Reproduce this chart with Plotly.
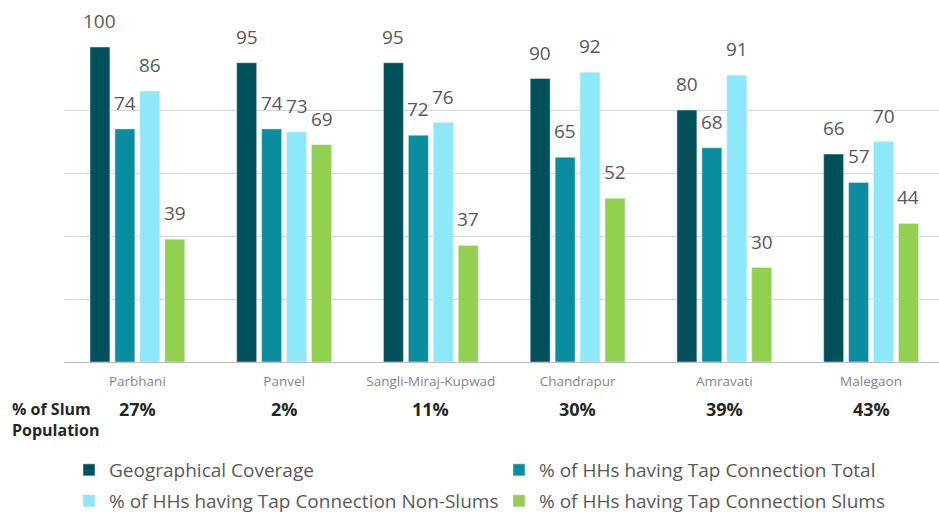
import plotly.graph_objects as go

cities = ["Parbhani", "Panvel", "Sangli-Miraj-Kupwad", "Chandrapur", "Amravati", "Malegaon"]
slum_pop = ["27%", "2%", "11%", "30%", "39%", "43%"]
geo_coverage = [100, 95, 95, 90, 80, 66]
tap_total = [74, 74, 72, 65, 68, 57]
tap_nonslum = [86, 73, 76, 92, 91, 70]
tap_slum = [39, 69, 37, 52, 30, 44]

series_names = [
    "Geographical Coverage",
    "% of HHs having Tap Connection Total",
    "% of HHs having Tap Connection Non-Slums",
    "% of HHs having Tap Connection Slums",
]
series_values = [geo_coverage, tap_total, tap_nonslum, tap_slum]
series_colors = ["#02505a", "#0a8d9e", "#8de8f9", "#92d050"]
legend_ids = ["legend", "legend2", "legend3", "legend4"]
# legend placement (pixels: left x, row center y)
legend_pos = [(69, 470), (499, 470), (69, 501), (499, 501)]

FONT = "Open Sans, Noto Sans, sans-serif"
W, H = 939, 515
ML, MR, MT, MB = 64, 0, 47, 153
BARGAP, BARGROUPGAP = 0.32, 0.2
XRANGE = [-0.5, 5.463]

plot_w = W - ML - MR
plot_h = H - MT - MB
cat_px = plot_w / (XRANGE[1] - XRANGE[0])
slot_px = cat_px * (1 - BARGAP) / len(series_names)

fig = go.Figure()
annotations = []
n = len(series_names)
for i, (name, vals, color, lg) in enumerate(zip(series_names, series_values, series_colors, legend_ids)):
    fig.add_trace(go.Bar(x=cities, y=vals, name=name, marker_color=color, legend=lg))
    shift = (i - (n - 1) / 2) * slot_px
    for c, v in zip(cities, vals):
        annotations.append(dict(
            text=str(v), xref="x", yref="y", x=c, y=v, xshift=shift, yshift=26,
            xanchor="center", yanchor="middle", showarrow=False,
            font=dict(size=19, color="#595959", family=FONT),
        ))

annotations.append(dict(
    text="<b>% of Slum<br>Population</b>", xref="paper", yref="paper",
    x=-(ML - 10) / plot_w, y=(H - MB - 396) / plot_h, xanchor="left", yanchor="top",
    align="left", showarrow=False, font=dict(size=16, color="#262626", family=FONT),
))
for c, p in zip(cities, slum_pop):
    annotations.append(dict(
        text=f"<b>{p}</b>", xref="x", yref="paper", x=c, y=(H - MB - 409) / plot_h,
        xanchor="center", yanchor="middle", showarrow=False,
        font=dict(size=18, color="#262626", family=FONT),
    ))

legends = {}
for lg, (px, py) in zip(legend_ids, legend_pos):
    legends[lg] = dict(
        orientation="h", xref="container", yref="container", x=px / W, y=(H - py) / H,
        xanchor="left", yanchor="middle",
        font=dict(size=19, color="#595959", family=FONT), bgcolor="rgba(0,0,0,0)",
    )

fig.update_layout(
    width=W, height=H,
    margin=dict(l=ML, r=MR, t=MT, b=MB),
    plot_bgcolor="white", paper_bgcolor="white",
    barmode="group", bargap=BARGAP, bargroupgap=BARGROUPGAP,
    font=dict(family=FONT),
    xaxis=dict(range=XRANGE, showline=True, linecolor="#bfbfbf", linewidth=1, ticks="",
               tickfont=dict(size=13.5, color="#858585", family=FONT),
               ticklabelstandoff=7),
    yaxis=dict(range=[0, 100], dtick=20, showticklabels=False,
               gridcolor="#d9d9d9", zeroline=False, showline=False),
    annotations=annotations,
    showlegend=True,
    **legends,
)

fig.write_html("out.html")
